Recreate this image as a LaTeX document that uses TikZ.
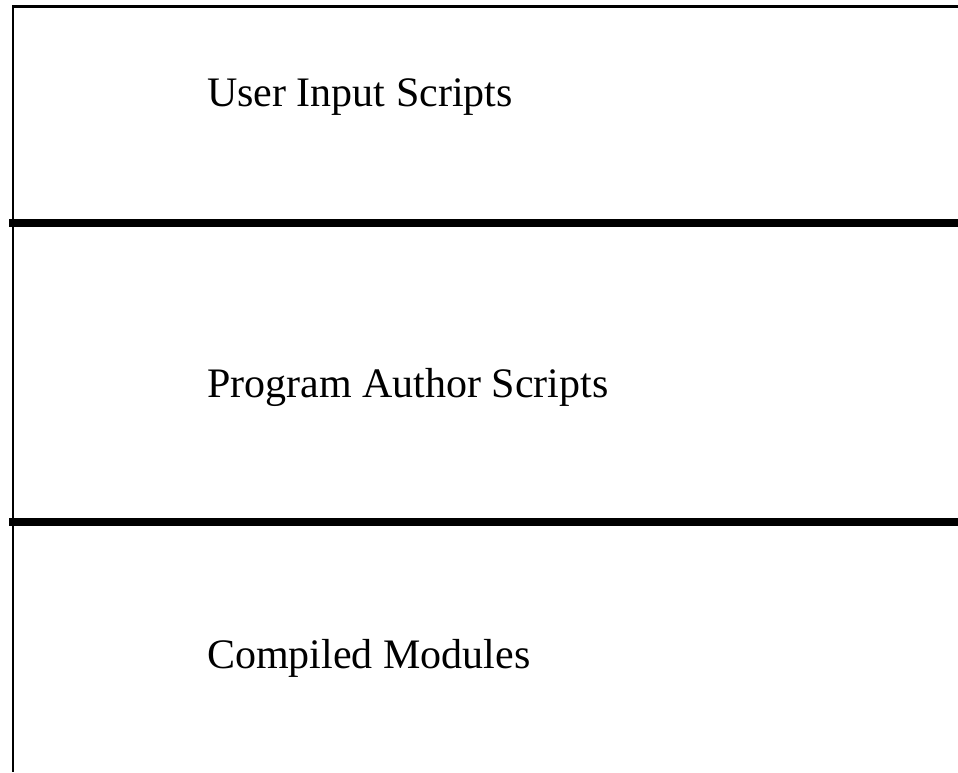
\documentclass[tikz,border=0pt]{standalone}
\usepackage{fontspec}
\setmainfont{Liberation Serif}
\usepackage{tikz}
\usetikzlibrary{positioning}

\begin{document}
\begin{tikzpicture}[x=1pt,y=-1pt,layer/.style={anchor=base west,inner sep=0pt,font=\fontsize{42}{50}\selectfont},
		divider/.style={line width=8pt},frame/.style={line width=2.5pt}]
		\useasboundingbox (0,0) rectangle (958,772);
		\coordinate (TOPLEFT) at (13,6.5);
		\coordinate (TOPRIGHT) at (958,6.5);
		\coordinate (BOTTOMLEFT) at (13,772);
		\node[layer] (USER)    at (207,106) {User Input Scripts};
		\node[layer] (AUTHOR)  at (207,397) {Program Author Scripts};
		\node[layer] (MODULES) at (207,668) {Compiled Modules};
		\draw[frame] (TOPRIGHT) -- (TOPLEFT) -- (BOTTOMLEFT);
		\draw[divider] (9,223) -- (958,223);
		\draw[divider] (9,522) -- (958,522);
	\end{tikzpicture}
\end{document}
